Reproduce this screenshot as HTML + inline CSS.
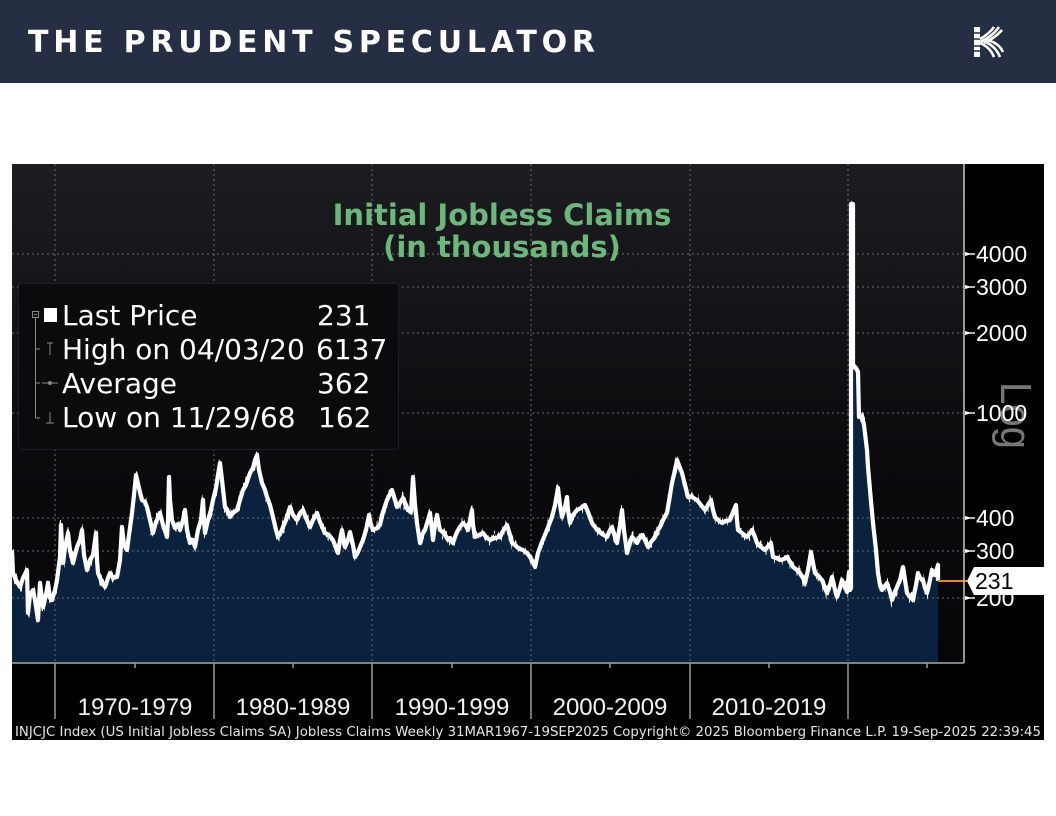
<!DOCTYPE html>
<html><head><meta charset="utf-8"><style>
html,body{margin:0;padding:0;background:#fff;}
svg{display:block;}
</style></head><body>
<svg width="1056" height="816" viewBox="0 0 1056 816" xmlns="http://www.w3.org/2000/svg">
<defs>
<linearGradient id="bg" x1="0" y1="164" x2="0" y2="663" gradientUnits="userSpaceOnUse">
<stop offset="0" stop-color="#1d1d21"/>
<stop offset="0.6" stop-color="#0b0b0e"/>
<stop offset="1" stop-color="#060608"/>
</linearGradient>
<filter id="jit" x="-2%" y="-10%" width="104%" height="120%">
<feTurbulence type="fractalNoise" baseFrequency="0.55 0.04" numOctaves="2" seed="7" result="n"/>
<feColorMatrix in="n" type="matrix" values="0 0 0 0 0.5  0 1 0 0 0  0 0 0 0 0  0 0 0 0 1" result="m"/>
<feDisplacementMap in="SourceGraphic" in2="m" scale="18" xChannelSelector="R" yChannelSelector="G"/>
</filter>
<path id="ser" d="M12,550 L13,573 L16,580 L20,587 L23,578 L27,570 L28,613 L30,595 L33,590 L35,600 L38,620 L40,583 L43,607 L46,595 L48,583 L50,598 L52,600 L55,590 L57,580 L60,557 L61,525 L62,545 L63,563 L65,548 L68,533 L70,550 L73,563 L75,555 L77,547 L80,540 L82,530 L84,555 L87,570 L90,560 L93,555 L96,533 L97,560 L98,573 L101,580 L105,587 L108,578 L110,573 L113,578 L117,577 L120,560 L122,527 L124,545 L127,550 L129,535 L132,513 L134,495 L136,475 L139,488 L142,500 L145,502 L147,507 L150,520 L153,533 L156,522 L160,513 L163,525 L167,537 L168,520 L169,477 L170,500 L172,520 L175,528 L178,524 L180,530 L183,520 L185,510 L187,530 L190,543 L193,540 L195,547 L198,530 L201,520 L203,500 L204,520 L205,533 L208,520 L211,510 L213,500 L216,488 L218,475 L220,463 L222,480 L225,507 L228,512 L230,517 L233,513 L237,510 L240,500 L243,490 L246,485 L250,473 L253,468 L255,460 L257,455 L259,470 L262,483 L265,490 L267,497 L270,505 L273,517 L276,530 L278,537 L281,532 L283,527 L286,520 L290,507 L293,515 L297,520 L300,513 L303,510 L306,518 L310,527 L313,520 L317,513 L320,522 L325,533 L329,535 L333,540 L336,548 L338,553 L340,540 L342,530 L345,547 L348,540 L350,532 L353,545 L355,557 L358,552 L360,547 L363,540 L366,530 L369,515 L371,525 L373,530 L377,528 L380,525 L383,512 L387,500 L390,494 L392,490 L395,500 L397,507 L400,503 L403,498 L406,505 L408,510 L411,512 L413,477 L415,505 L417,523 L420,543 L422,535 L425,530 L428,520 L430,513 L432,530 L433,540 L435,525 L437,515 L439,525 L440,530 L444,533 L448,540 L450,538 L453,543 L455,537 L457,532 L460,527 L463,523 L466,526 L468,530 L470,520 L472,510 L473,525 L475,537 L479,535 L483,533 L486,537 L490,540 L495,538 L500,537 L503,531 L507,525 L510,535 L512,543 L515,545 L517,547 L520,549 L523,550 L527,553 L530,557 L533,562 L535,567 L538,553 L542,542 L547,530 L550,522 L552,517 L555,505 L558,488 L560,505 L562,517 L565,507 L567,497 L568,510 L570,523 L573,515 L577,510 L581,508 L585,505 L588,512 L592,523 L595,527 L597,530 L602,534 L607,537 L610,530 L612,527 L615,537 L617,543 L620,525 L622,510 L624,530 L627,553 L630,543 L632,537 L635,540 L637,543 L640,537 L642,535 L645,540 L648,547 L651,542 L655,537 L658,530 L660,527 L663,520 L667,513 L670,495 L672,483 L675,470 L677,460 L680,468 L682,473 L685,485 L688,497 L692,497 L697,500 L701,505 L705,510 L708,505 L711,500 L713,510 L715,517 L718,520 L722,523 L726,521 L730,520 L733,512 L736,505 L737,520 L738,530 L742,533 L747,537 L750,533 L752,530 L755,537 L757,543 L761,547 L765,550 L768,546 L771,543 L772,550 L773,557 L777,558 L780,560 L784,559 L787,557 L790,562 L793,567 L797,570 L800,573 L803,578 L805,583 L808,570 L811,552 L813,563 L815,573 L819,577 L822,580 L825,588 L827,593 L830,585 L832,577 L835,590 L837,597 L840,588 L842,580 L845,586 L847,592 L849,572 L850,590 L851,588 L851,204 L853,204 L853,367 L856,368 L858,372 L859,417 L862,417 L864,425 L867,450 L868,467 L870,490 L873,523 L876,550 L878,573 L880,585 L882,590 L885,586 L887,583 L890,592 L892,600 L895,592 L897,587 L900,580 L903,567 L905,580 L907,593 L910,597 L913,600 L916,585 L918,573 L920,578 L923,580 L925,588 L927,593 L930,580 L932,570 L935,575 L936,572 L938,565 L938,581"/>
</defs>
<rect x="0" y="0" width="1056" height="816" fill="#fff"/>
<!-- header -->
<rect x="0" y="0" width="1056" height="83" fill="#262e43"/>
<text x="28" y="52" font-family="DejaVu Sans, sans-serif" font-weight="bold" font-size="30" fill="#fff" textLength="567" lengthAdjust="spacing">THE PRUDENT SPECULATOR</text>
<!-- logo -->
<rect x="974" y="27" width="6" height="30" fill="#fff"/>
<g stroke="#262e43" stroke-width="1.5"><line x1="974" y1="33" x2="980" y2="33"/><line x1="974" y1="39" x2="980" y2="39"/><line x1="974" y1="46" x2="980" y2="46"/><line x1="974" y1="51" x2="980" y2="51"/></g>
<g fill="none" stroke="#fff" stroke-width="2.6">
<path d="M980 39 Q989 34 994 27"/>
<path d="M980 42 Q992 37 999 27"/>
<path d="M984 43 Q995 38 1002 30"/>
<path d="M980 43 Q990 47 994 57"/>
<path d="M983 41 Q995 45 1000 57"/>
<path d="M987 40 Q999 43 1003 52"/>
</g>
<!-- chart panel -->
<rect x="12" y="164" width="1032" height="576" fill="#000"/>
<rect x="12" y="164" width="952" height="499" fill="url(#bg)"/>
<!-- fill -->
<path fill="#0b223f" d="M12,550 L13,573 L16,580 L20,587 L23,578 L27,570 L28,613 L30,595 L33,590 L35,600 L38,620 L40,583 L43,607 L46,595 L48,583 L50,598 L52,600 L55,590 L57,580 L60,557 L61,525 L62,545 L63,563 L65,548 L68,533 L70,550 L73,563 L75,555 L77,547 L80,540 L82,530 L84,555 L87,570 L90,560 L93,555 L96,533 L97,560 L98,573 L101,580 L105,587 L108,578 L110,573 L113,578 L117,577 L120,560 L122,527 L124,545 L127,550 L129,535 L132,513 L134,495 L136,475 L139,488 L142,500 L145,502 L147,507 L150,520 L153,533 L156,522 L160,513 L163,525 L167,537 L168,520 L169,477 L170,500 L172,520 L175,528 L178,524 L180,530 L183,520 L185,510 L187,530 L190,543 L193,540 L195,547 L198,530 L201,520 L203,500 L204,520 L205,533 L208,520 L211,510 L213,500 L216,488 L218,475 L220,463 L222,480 L225,507 L228,512 L230,517 L233,513 L237,510 L240,500 L243,490 L246,485 L250,473 L253,468 L255,460 L257,455 L259,470 L262,483 L265,490 L267,497 L270,505 L273,517 L276,530 L278,537 L281,532 L283,527 L286,520 L290,507 L293,515 L297,520 L300,513 L303,510 L306,518 L310,527 L313,520 L317,513 L320,522 L325,533 L329,535 L333,540 L336,548 L338,553 L340,540 L342,530 L345,547 L348,540 L350,532 L353,545 L355,557 L358,552 L360,547 L363,540 L366,530 L369,515 L371,525 L373,530 L377,528 L380,525 L383,512 L387,500 L390,494 L392,490 L395,500 L397,507 L400,503 L403,498 L406,505 L408,510 L411,512 L413,477 L415,505 L417,523 L420,543 L422,535 L425,530 L428,520 L430,513 L432,530 L433,540 L435,525 L437,515 L439,525 L440,530 L444,533 L448,540 L450,538 L453,543 L455,537 L457,532 L460,527 L463,523 L466,526 L468,530 L470,520 L472,510 L473,525 L475,537 L479,535 L483,533 L486,537 L490,540 L495,538 L500,537 L503,531 L507,525 L510,535 L512,543 L515,545 L517,547 L520,549 L523,550 L527,553 L530,557 L533,562 L535,567 L538,553 L542,542 L547,530 L550,522 L552,517 L555,505 L558,488 L560,505 L562,517 L565,507 L567,497 L568,510 L570,523 L573,515 L577,510 L581,508 L585,505 L588,512 L592,523 L595,527 L597,530 L602,534 L607,537 L610,530 L612,527 L615,537 L617,543 L620,525 L622,510 L624,530 L627,553 L630,543 L632,537 L635,540 L637,543 L640,537 L642,535 L645,540 L648,547 L651,542 L655,537 L658,530 L660,527 L663,520 L667,513 L670,495 L672,483 L675,470 L677,460 L680,468 L682,473 L685,485 L688,497 L692,497 L697,500 L701,505 L705,510 L708,505 L711,500 L713,510 L715,517 L718,520 L722,523 L726,521 L730,520 L733,512 L736,505 L737,520 L738,530 L742,533 L747,537 L750,533 L752,530 L755,537 L757,543 L761,547 L765,550 L768,546 L771,543 L772,550 L773,557 L777,558 L780,560 L784,559 L787,557 L790,562 L793,567 L797,570 L800,573 L803,578 L805,583 L808,570 L811,552 L813,563 L815,573 L819,577 L822,580 L825,588 L827,593 L830,585 L832,577 L835,590 L837,597 L840,588 L842,580 L845,586 L847,592 L849,572 L850,590 L851,588 L851,204 L853,204 L853,367 L856,368 L858,372 L859,417 L862,417 L864,425 L867,450 L868,467 L870,490 L873,523 L876,550 L878,573 L880,585 L882,590 L885,586 L887,583 L890,592 L892,600 L895,592 L897,587 L900,580 L903,567 L905,580 L907,593 L910,597 L913,600 L916,585 L918,573 L920,578 L923,580 L925,588 L927,593 L930,580 L932,570 L935,575 L936,572 L938,565 L938,581 L938,663 L12,663 Z"/>
<!-- grid -->
<g stroke="#6a6a70" stroke-width="1" stroke-dasharray="2,3">
<line x1="55" y1="164" x2="55" y2="663"/>
<line x1="214" y1="164" x2="214" y2="663"/>
<line x1="372" y1="164" x2="372" y2="663"/>
<line x1="531" y1="164" x2="531" y2="663"/>
<line x1="690" y1="164" x2="690" y2="663"/>
<line x1="848" y1="164" x2="848" y2="663"/>
<line x1="12" y1="254" x2="964" y2="254"/>
<line x1="12" y1="287" x2="964" y2="287"/>
<line x1="12" y1="333" x2="964" y2="333"/>
<line x1="12" y1="413" x2="964" y2="413"/>
<line x1="12" y1="518" x2="964" y2="518"/>
<line x1="12" y1="551" x2="964" y2="551"/>
<line x1="12" y1="598" x2="964" y2="598"/>
</g>
<!-- series line -->
<use href="#ser" fill="none" stroke="#fff" stroke-width="3" stroke-linejoin="round" filter="url(#jit)"/>
<use href="#ser" fill="none" stroke="#fff" stroke-width="4.2" stroke-linejoin="round"/>
<!-- last price line -->
<line x1="938" y1="581" x2="967" y2="581" stroke="#e08a1c" stroke-width="2"/>
<!-- axes -->
<line x1="964" y1="164" x2="964" y2="663" stroke="#c8c8c8" stroke-width="1.5"/>
<line x1="12" y1="663" x2="964" y2="663" stroke="#a8a8a8" stroke-width="1.5"/>
<g stroke="#9a9a9a" stroke-width="1.5">
<line x1="55" y1="663" x2="55" y2="719"/>
<line x1="214" y1="663" x2="214" y2="719"/>
<line x1="372" y1="663" x2="372" y2="719"/>
<line x1="531" y1="663" x2="531" y2="719"/>
<line x1="690" y1="663" x2="690" y2="719"/>
<line x1="848" y1="663" x2="848" y2="719"/>
</g>
<g stroke="#9a9a9a" stroke-width="1.5">
<line x1="135" y1="663" x2="135" y2="668"/>
<line x1="293" y1="663" x2="293" y2="668"/>
<line x1="452" y1="663" x2="452" y2="668"/>
<line x1="610" y1="663" x2="610" y2="668"/>
<line x1="769" y1="663" x2="769" y2="668"/>
<line x1="927" y1="663" x2="927" y2="668"/>
</g>
<g font-family="Liberation Sans, sans-serif" font-size="24" fill="#f2f2f2" text-anchor="middle">
<text x="135" y="715">1970-1979</text>
<text x="293" y="715">1980-1989</text>
<text x="452" y="715">1990-1999</text>
<text x="610" y="715">2000-2009</text>
<text x="769" y="715">2010-2019</text>
</g>
<!-- right axis ticks -->
<g fill="#fff">
<polygon points="965,252 972,254 965,256"/><rect x="970" y="253.3" width="5" height="1.4"/>
<polygon points="965,285 972,287 965,289"/><rect x="970" y="286.3" width="5" height="1.4"/>
<polygon points="965,331 972,333 965,335"/><rect x="970" y="332.3" width="5" height="1.4"/>
<polygon points="965,411 972,413 965,415"/><rect x="970" y="412.3" width="5" height="1.4"/>
<polygon points="965,516 972,518 965,520"/><rect x="970" y="517.3" width="5" height="1.4"/>
<polygon points="965,549 972,551 965,553"/><rect x="970" y="550.3" width="5" height="1.4"/>
<polygon points="965,596 972,598 965,600"/><rect x="970" y="597.3" width="5" height="1.4"/>
</g>
<text x="0" y="0" transform="translate(1001,382) rotate(90)" font-family="Liberation Sans, sans-serif" font-size="44" fill="#767676" textLength="67" lengthAdjust="spacingAndGlyphs">Log</text>
<g font-family="Liberation Sans, sans-serif" font-size="23" fill="#fff">
<text x="976" y="262">4000</text>
<text x="976" y="295">3000</text>
<text x="976" y="341">2000</text>
<text x="976" y="421">1000</text>
<text x="976" y="526">400</text>
<text x="976" y="559">300</text>
<text x="976" y="606">200</text>
</g>
<polygon points="967,581 974,567 1044,567 1044,595 974,595" fill="#fff"/>
<text x="975" y="589" font-family="Liberation Sans, sans-serif" font-size="23" fill="#000">231</text>
<!-- title -->
<g font-family="DejaVu Sans, sans-serif" font-weight="bold" font-size="29" fill="#6cb87c" text-anchor="middle">
<text x="502" y="225">Initial Jobless Claims</text>
<text x="502" y="257">(in thousands)</text>
</g>
<!-- legend -->
<rect x="18.5" y="283.5" width="380" height="166" rx="4" fill="#0b0b0e" stroke="#1f1f23" stroke-width="1"/>
<g stroke="#8a8a8a" stroke-width="1" fill="none">
<rect x="32.5" y="311.5" width="6" height="6"/>
<line x1="34" y1="314.5" x2="37" y2="314.5"/>
<line x1="35.5" y1="318" x2="35.5" y2="418"/>
<line x1="35.5" y1="349" x2="40" y2="349"/>
<line x1="35.5" y1="383" x2="40" y2="383"/>
<line x1="35.5" y1="418" x2="40" y2="418"/>
<line x1="47" y1="343" x2="53" y2="343"/>
<line x1="50" y1="343" x2="50" y2="355"/>
<line x1="42" y1="383" x2="58" y2="383"/>
<line x1="50" y1="412" x2="50" y2="423"/>
<line x1="46" y1="423" x2="54" y2="423"/>
</g>
<circle cx="50" cy="383" r="2" fill="#8a8a8a"/>
<rect x="44" y="308" width="13" height="14" fill="#fff"/>
<g font-family="DejaVu Sans, sans-serif" font-size="28" fill="#fff">
<text x="62" y="325">Last Price</text>
<text x="62" y="359">High on 04/03/20</text>
<text x="62" y="393">Average</text>
<text x="62" y="427">Low on 11/29/68</text>
<text x="317" y="325">231</text>
<text x="316" y="359">6137</text>
<text x="317" y="393">362</text>
<text x="318" y="427">162</text>
</g>
<!-- footer -->
<text x="15" y="736" font-family="DejaVu Sans, sans-serif" font-size="13" fill="#e6e6e6" textLength="1026" lengthAdjust="spacingAndGlyphs">INJCJC Index (US Initial Jobless Claims SA) Jobless Claims  Weekly 31MAR1967-19SEP2025  Copyright© 2025 Bloomberg Finance L.P.  19-Sep-2025 22:39:45</text>
</svg>
</body></html>
